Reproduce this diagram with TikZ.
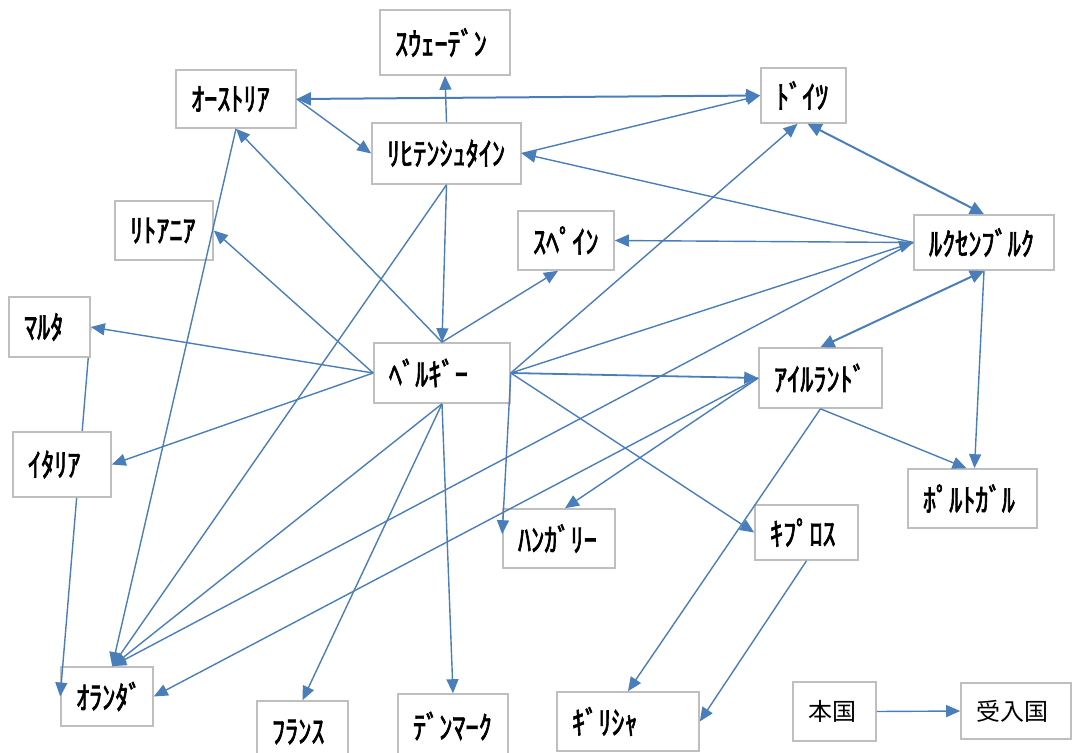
\documentclass[tikz,border=0pt]{standalone}
\usepackage{fontspec}
\newfontfamily\jp[FakeStretch=0.82,FakeBold=2]{Noto Sans CJK JP}
\newfontfamily\jpk{Noto Sans CJK JP}
\usetikzlibrary{arrows.meta,calc,backgrounds}
\definecolor{edgeblue}{HTML}{4A7EBB}
\definecolor{boxgray}{HTML}{BFBFBF}
\tikzset{
  box/.style={draw=boxgray, line width=1.6pt, fill=white, inner xsep=15pt, inner ysep=0pt,
    align=left, font=\jp\fontsize{32pt}{34pt}\selectfont},
  kbox/.style={box, font=\jpk\fontsize{24pt}{26pt}\selectfont},
  edge/.style={draw=edgeblue, line width=1.4pt, -{Triangle[length=14pt,width=12pt]}},
  plain/.style={draw=edgeblue, line width=1.4pt},
  dedge/.style={draw=edgeblue, line width=2pt, {Triangle[length=14pt,width=13pt]}-{Triangle[length=14pt,width=13pt]}}
}
\begin{document}
\begin{tikzpicture}[x=1pt,y=-1pt]
\clip (0,0) rectangle (1072,753);
% nodes
\node[box, text width=100pt, minimum height=65pt] (swe) at (445,42.5) {ｽｳｪｰﾃﾞﾝ};
\node[box, text width=90pt, minimum height=58pt] (aut) at (236,99) {ｵｰｽﾄﾘｱ};
\node[box, text width=119pt, minimum height=61pt] (lie) at (446.5,153.5) {ﾘﾋﾃﾝｼｭﾀｲﾝ};
\node[box, text width=55pt, minimum height=55pt] (ger) at (803.5,95.5) {ﾄﾞｲﾂ};
\node[box, text width=68pt, minimum height=59pt] (lit) at (164,230.5) {ﾘﾄｱﾆｱ};
\node[box, text width=66pt, minimum height=59pt] (spa) at (566,240.5) {ｽﾍﾟｲﾝ};
\node[box, text width=110pt, minimum height=55pt] (lux) at (984,242.5) {ﾙｸｾﾝﾌﾞﾙｸ};
\node[box, text width=51pt, minimum height=60pt] (mal) at (49.5,327) {ﾏﾙﾀ};
\node[box, text width=106pt, minimum height=60pt] (bel) at (442,373) {ﾍﾞﾙｷﾞｰ};
\node[box, text width=93pt, minimum height=60pt] (ire) at (820.5,378) {ｱｲﾙﾗﾝﾄﾞ};
\node[box, text width=68pt, minimum height=65pt] (ita) at (62,464.5) {ｲﾀﾘｱ};
\node[box, text width=99pt, minimum height=59pt] (por) at (972.5,498.5) {ﾎﾟﾙﾄｶﾞﾙ};
\node[box, text width=82pt, minimum height=59pt] (hun) at (559,538.5) {ﾊﾝｶﾞﾘｰ};
\node[box, text width=73pt, minimum height=55pt] (cyp) at (806.5,532.5) {ｷﾌﾟﾛｽ};
\node[box, text width=62pt, minimum height=59pt] (ned) at (107,696.5) {ｵﾗﾝﾀﾞ};
\node[box, text width=61pt, minimum height=62pt] (fra) at (302.5,732) {ﾌﾗﾝｽ};
\node[box, text width=80pt, minimum height=64pt] (den) at (453,726) {ﾃﾞﾝﾏｰｸ};
\node[box, text width=112pt, minimum height=59pt] (gre) at (628,721.5) {ｷﾞﾘｼｬ};
\node[kbox, text width=53pt, minimum height=59pt] (home) at (834.5,711.5) {本国};
\node[kbox, text width=80pt, minimum height=56pt] (host) at (1016,711) {受入国};
% named end points
\coordinate (nedtop) at ($(ned.north west)+(52,0)$);
\coordinate (spabot) at ($(spa.south)+(-8,0)$);
\coordinate (gerbl) at ($(ger.south)+(-6,0)$);
\coordinate (gerbr) at ($(ger.south)+(4,0)$);
\coordinate (portl) at ($(por.north)+(-6,0)$);
\coordinate (portr) at ($(por.north)+(2,0)$);
\coordinate (huntop) at ($(hun.north)+(6,0)$);
\coordinate (hunleft) at ($(hun.north west)+(0,26)$);
\coordinate (malned) at ($(mal.east)!0.55!(ned.west)$);
% Malta -> Netherlands, passing behind Italy
\begin{pgfonlayer}{background}
\draw[plain] (mal.east) -- (malned);
\end{pgfonlayer}
\draw[edge] (malned) -- (ned.west);
% edges
\draw[dedge] (aut.east) -- (ger.west);
\draw[edge] (aut.east) -- (lie.west);
\draw[edge] (lie.north) -- (swe.south);
\draw[edge] (lux.west) -- (lie.east);
\draw[edge] (lie.east) -- (ger.west);
\draw[edge] (bel.north) -- (aut.south);
\draw[edge] (lie.south) -- (bel.north);
\draw[edge] (lie.south) -- (nedtop);
\draw[edge] (aut.south) -- (nedtop);
\draw[edge] (bel.south) -- (nedtop);
\draw[edge] (lux.west) -- (nedtop);
\draw[edge] (ire.west) -- (ned.east);
\draw[edge] (bel.north) -- (spabot);
\draw[edge] (bel.east) -- (gerbl);
\draw[dedge] (gerbr) -- (lux.north);
\draw[edge] (lux.west) -- (spa.east);
\draw[dedge] (lux.south) -- (ire.north);
\draw[edge] (lux.south) -- (portr);
\draw[edge] (ire.south) -- (portl);
\draw[edge] (bel.east) -- (lux.west);
\draw[edge, line width=1.8pt] (bel.east) -- (ire.west);
\draw[edge] (ire.west) -- (huntop);
\draw[edge] (bel.east) -- (hunleft);
\draw[edge] (bel.east) -- (cyp.west);
\draw[edge] (ire.south) -- (gre.north);
\draw[edge] (cyp.south) -- (gre.east);
\draw[edge] (bel.west) -- (mal.east);
\draw[edge] (bel.west) -- (ita.east);
\draw[edge] (bel.west) -- (lit.east);
\draw[edge] (bel.south) -- (fra.north);
\draw[edge] (bel.south) -- (den.north);
\draw[edge] (home.east) -- (host.west);
\end{tikzpicture}
\end{document}
